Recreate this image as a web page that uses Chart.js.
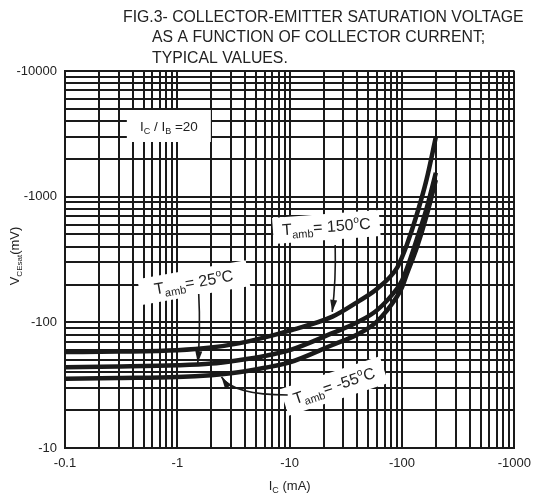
<!DOCTYPE html>
<html>
<head>
<meta charset="utf-8">
<title>VCEsat vs IC</title>
<script src="https://cdn.jsdelivr.net/npm/chart.js@4.4.1/dist/chart.umd.min.js"></script>
<style>
  html, body { margin: 0; padding: 0; background: #fff; }
  #wrap { width: 539px; height: 495px; }
</style>
</head>
<body>
<div id="wrap"><canvas id="vcesatChart" width="539" height="495"></canvas></div>
<script>
// ═══ DATA (IC in mA, VCEsat in mV) ════════════════════════════════════════
const IC_MA    = [-0.1, -0.3, -1, -2, -3.5, -6, -10, -24, -40, -60, -90, -100, -110, -135, -165, -200];
const VCE_150C = [-58, -58.5, -60, -63, -68, -76, -86, -111, -145, -185, -270, -330, -410, -715, -1360, -2980];
const VCE_25C  = [-44, -44.5, -45.5, -47, -50, -54, -60, -82, -100, -125, -185, -215, -265, -455, -800, -1550];
const VCE_M55C = [-35.5, -36, -36.7, -38, -40, -43.5, -48, -66, -80, -102, -160, -190, -240, -390, -700, -1360];

const X_TICK_LABELS = ['-0.1', '-1', '-10', '-100', '-1000'];
const Y_TICK_LABELS = ['-10', '-100', '-1000', '-10000'];

(function () {
    'use strict';

    const FONT = "'Liberation Sans', Arial, sans-serif";
    const INK  = '#1a1a1a';
    const TXT  = '#222';
    const font = (px) => `${px}px ${FONT}`;

    // log axes run on magnitudes, the labels put the minus sign back
    const toPoints = (vals) => IC_MA.map((ic, i) => ({ x: Math.abs(ic), y: Math.abs(vals[i]) }));

    // every 1..9 x 10^n line between min and max
    function logTicks(min, max) {
        const out = [];
        for (let e = Math.round(Math.log10(min)); Math.pow(10, e) <= max * 1.0001; e++) {
            for (let m = 1; m <= 9; m++) {
                const v = parseFloat((m * Math.pow(10, e)).toPrecision(8));
                if (v >= min * 0.9999 && v <= max * 1.0001) out.push(v);
            }
        }
        return out;
    }
    function decadeLabel(labels, min) {
        const e0 = Math.round(Math.log10(min));
        return (value) => {
            const e = Math.round(Math.log10(value));
            return Math.abs(value - Math.pow(10, e)) < 1e-9 * value ? labels[e - e0] : '';
        };
    }

    // ═══ ANNOTATIONS (anchored in data space) ═════════════════════════════
    const TAMB = (t) => [['T', 16], ['amb', 11, 4], [`= ${t}`, 16], ['o', 10, -7], ['C', 16]];
    const BOXES = [
        { at: [-0.84, -3650], w: 84,  h: 32, rot: 0,     parts: [['I', 13.5], ['C', 9, 3], [' / I', 13.5], ['B', 9, 3], [' =20', 13.5]] },
        { at: [-21.2, -574],  w: 107, h: 26, rot: -4.3,  parts: TAMB('150') },
        { at: [-1.40, -207],  w: 110, h: 26, rot: -10,   parts: TAMB('25') },
        { at: [-24.9, -31.1], w: 105, h: 28, rot: -18.3, parts: TAMB('-55') },
    ];
    const ARROWS = [
        { from: [-25.4, -412], ctrl: [-25.9, -217], to: [-23.9, -121] },
        { from: [-1.55, -168], ctrl: [-1.61, -87],  to: [-1.52, -47.4] },
        { from: [-9.6, -26.4], ctrl: [-3.15, -26.4], to: [-2.47, -36.7] },
    ];

    function richWidth(ctx, parts) {
        let w = 0;
        parts.forEach(p => { ctx.font = font(p[1]); w += ctx.measureText(p[0]).width; });
        return w;
    }
    function drawRich(ctx, parts, x, y) {
        let cx = x - richWidth(ctx, parts) / 2;
        parts.forEach(p => {
            ctx.font = font(p[1]);
            ctx.fillText(p[0], cx, y + (p[2] || 0));
            cx += ctx.measureText(p[0]).width;
        });
    }

    const sheetPlugin = {
        id: 'sheet',
        afterDraw(chart) {
            const { ctx, chartArea: a, scales: { x, y } } = chart;
            const px = (pt) => [x.getPixelForValue(Math.abs(pt[0])), y.getPixelForValue(Math.abs(pt[1]))];
            ctx.save();
            ctx.fillStyle = TXT;
            ctx.textBaseline = 'alphabetic';

            // figure caption
            ctx.font = font(15.8);
            ctx.textAlign = 'left';
            ctx.fillText('FIG.3- COLLECTOR-EMITTER SATURATION VOLTAGE', 123, 22);
            ctx.fillText('AS A FUNCTION OF COLLECTOR CURRENT;', 152, 42);
            ctx.fillText('TYPICAL VALUES.', 152, 63);

            // axis titles with subscripts
            drawRich(ctx, [['I', 13], ['C', 9, 3], [' (mA)', 13]], (a.left + a.right) / 2, 490);
            ctx.save();
            ctx.translate(19, 256);
            ctx.rotate(-Math.PI / 2);
            drawRich(ctx, [['V', 13], ['CEsat', 8, 3], ['(mV)', 13]], 0, 0);
            ctx.restore();

            // white label patches
            BOXES.forEach(b => {
                const [cx, cy] = px(b.at);
                ctx.save();
                ctx.translate(cx, cy);
                ctx.rotate(b.rot * Math.PI / 180);
                ctx.fillStyle = '#fff';
                ctx.fillRect(-b.w / 2, -b.h / 2, b.w, b.h);
                ctx.fillStyle = TXT;
                drawRich(ctx, b.parts, 0, 5);
                ctx.restore();
            });

            // pointer arrows
            ctx.strokeStyle = INK;
            ctx.fillStyle = INK;
            ctx.lineWidth = 1.6;
            ARROWS.forEach(ar => {
                const f = px(ar.from), c = px(ar.ctrl), t = px(ar.to);
                ctx.beginPath();
                ctx.moveTo(f[0], f[1]);
                ctx.quadraticCurveTo(c[0], c[1], t[0], t[1]);
                ctx.stroke();
                const ang = Math.atan2(t[1] - c[1], t[0] - c[0]);
                ctx.save();
                ctx.translate(t[0], t[1]);
                ctx.rotate(ang);
                ctx.beginPath();
                ctx.moveTo(0, 0);
                ctx.lineTo(-12, -3.5);
                ctx.lineTo(-12, 3.5);
                ctx.closePath();
                ctx.fill();
                ctx.restore();
            });
            ctx.restore();
        }
    };

    const curve = (vals) => ({
        data: toPoints(vals),
        borderColor: INK,
        borderWidth: 4.5,
        pointRadius: 0,
        fill: false,
        cubicInterpolationMode: 'monotone',
    });

    const axisCommon = {
        type: 'logarithmic',
        grid: { color: INK, lineWidth: 2, drawTicks: false },
        border: { color: INK, width: 2 },
        title: { display: false },
    };

    new Chart(document.getElementById('vcesatChart'), {
        type: 'line',
        data: { datasets: [curve(VCE_150C), curve(VCE_25C), curve(VCE_M55C)] },
        options: {
            responsive: false,
            animation: false,
            layout: { padding: { top: 71, right: 20, left: 0, bottom: 0 } },
            plugins: { legend: { display: false }, tooltip: { enabled: false } },
            scales: {
                x: {
                    ...axisCommon,
                    min: 0.1, max: 1000,
                    afterBuildTicks: (ax) => { ax.ticks = logTicks(0.1, 1000).map(v => ({ value: v })); },
                    afterFit: (ax) => { ax.height = 47; },
                    ticks: {
                        autoSkip: false, maxRotation: 0, padding: 8,
                        color: TXT, font: { family: FONT, size: 13 },
                        callback: decadeLabel(X_TICK_LABELS, 0.1),
                    },
                },
                y: {
                    ...axisCommon,
                    min: 10, max: 10000,
                    afterBuildTicks: (ax) => { ax.ticks = logTicks(10, 10000).map(v => ({ value: v })); },
                    afterFit: (ax) => { ax.width = 65; },
                    ticks: {
                        autoSkip: false, padding: 8,
                        color: TXT, font: { family: FONT, size: 13 },
                        callback: decadeLabel(Y_TICK_LABELS, 10),
                    },
                },
            },
        },
        plugins: [sheetPlugin],
    });
})();
</script>
</body>
</html>
